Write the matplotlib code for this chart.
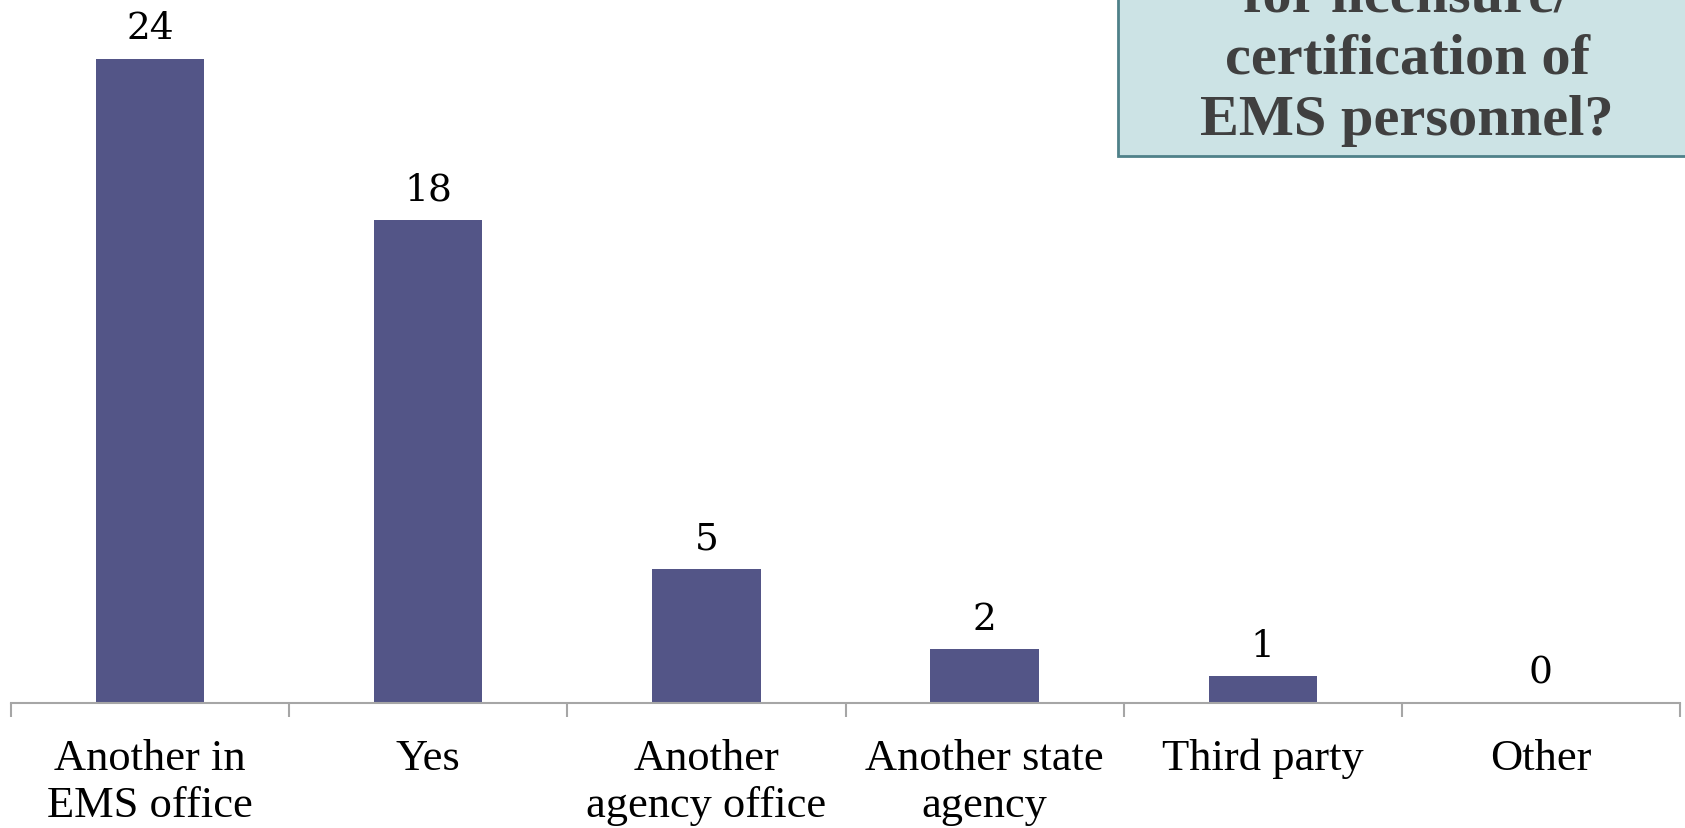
import matplotlib
matplotlib.use("Agg")
import matplotlib.pyplot as plt
from matplotlib.patches import Rectangle

# data
categories = ["Another in\nEMS office", "Yes", "Another\nagency office",
              "Another state\nagency", "Third party", "Other"]
counts = [24, 18, 5, 2, 1, 0]
title_lines = ["for licensure/", "certification of", "EMS personnel?"]

W, H = 1685, 829
fig = plt.figure(figsize=(W / 100, H / 100), dpi=100)

ax_bottom = 1 - 704 / H
ax = fig.add_axes([11 / W, ax_bottom, (1680 - 11) / W, 1 - ax_bottom])

x = range(len(categories))
ax.bar(x, counts, width=0.39, color="#535587")
ax.set_xlim(-0.5, len(categories) - 0.5)
ax.set_ylim(0, 24 * 704 / (704 - 60))

for xi, v in zip(x, counts):
    ax.annotate(str(v), (xi, v), xytext=(0, 22), textcoords="offset points",
                ha="center", va="center", fontsize=27, family="DejaVu Serif",
                color="black")

for s in ["top", "right", "left"]:
    ax.spines[s].set_visible(False)
ax.spines["bottom"].set_color("#A6A6A6")
ax.spines["bottom"].set_linewidth(1.5)
ax.set_yticks([])

ax.set_xticks(list(x))
ax.set_xticklabels(categories, fontsize=32, family="Liberation Serif",
                   linespacing=1.24, va="top")
ax.tick_params(axis="x", which="major", length=0, pad=25)
ax.set_xticks([i - 0.5 for i in range(len(categories) + 1)], minor=True)
ax.tick_params(axis="x", which="minor", length=10, width=1.5, color="#A6A6A6")

# question box in the corner (its first line runs off the top, as in the slide)
box = Rectangle((1118 / W, 1 - 157 / H), 0.5, 0.5, transform=fig.transFigure,
                facecolor="#CCE3E5", edgecolor="#4F8189", linewidth=2,
                clip_on=False)
fig.add_artist(box)
ys = [-3, 59, 121]
for line, yy in zip(title_lines, ys):
    fig.text(1407 / W, 1 - yy / H, line, ha="center", va="center",
             fontsize=42, fontweight="bold", family="Liberation Serif",
             color="#404040")

fig.savefig("out.png", dpi=100)
